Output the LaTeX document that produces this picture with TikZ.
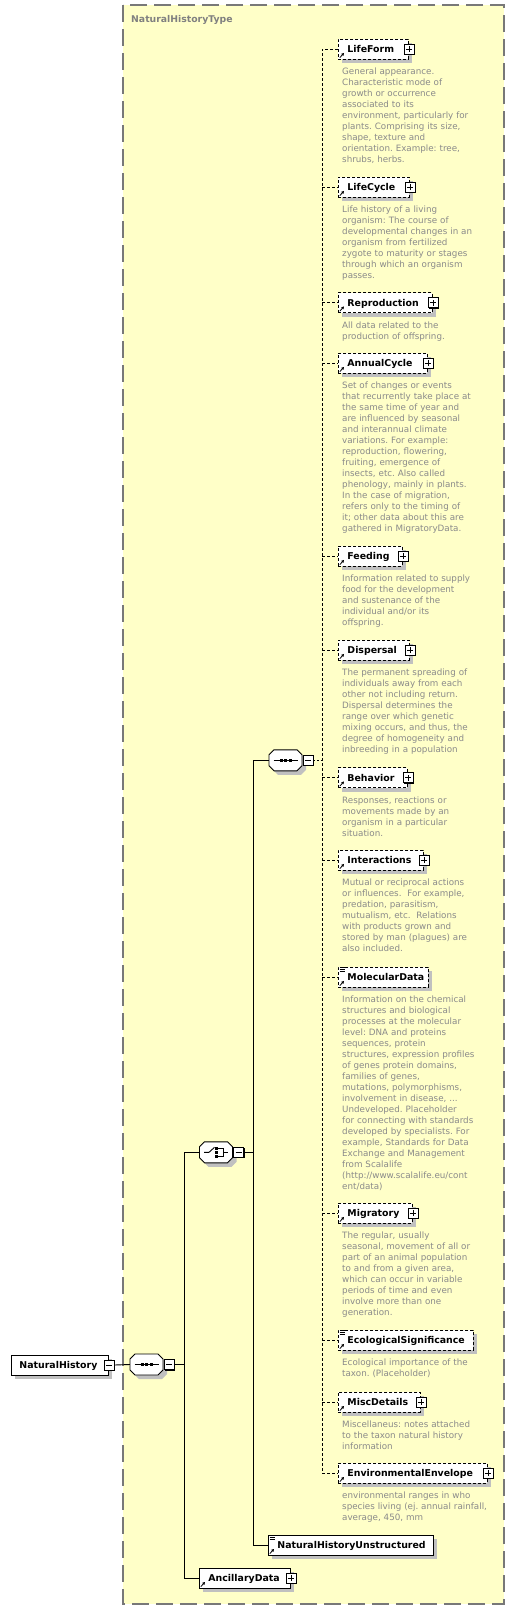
\documentclass[tikz,border=0pt]{standalone}
\usepackage{fontspec}
\setmainfont{DejaVu Sans}
\usetikzlibrary{shadows,arrows.meta}
\definecolor{bgyellow}{RGB}{255,255,200}
\definecolor{framegray}{RGB}{120,120,120}
\definecolor{shgray}{RGB}{192,192,192}
\definecolor{descgray}{RGB}{138,138,138}
\definecolor{titlegray}{RGB}{128,128,128}
\newcommand\nmfont{\fontsize{9.4}{11}\selectfont\bfseries}
\newcommand\dsfont{\fontsize{8.75}{11}\selectfont}
\newcommand\octshape[2]{%
  \path[#2] ([shift={(-11.5,-10.5)}]#1) -- ([shift={(11.5,-10.5)}]#1) -- ([shift={(16.5,-5.5)}]#1) -- ([shift={(16.5,5.5)}]#1) -- ([shift={(11.5,10.5)}]#1) -- ([shift={(-11.5,10.5)}]#1) -- ([shift={(-16.5,5.5)}]#1) -- ([shift={(-16.5,-5.5)}]#1) -- cycle;}
\newcommand\seqsym[1]{%
  \draw[line width=0.9pt] ([xshift=-12pt]#1.center) -- ([xshift=12pt]#1.center);
  \foreach \dx in {-4.5,0,4.5} {\fill ([shift={(\dx-1.5,-1.5)}]#1.center) rectangle ([shift={(\dx+1.5,1.5)}]#1.center);}}
\newcommand\refico[1]{\draw[line width=0.8pt,-{Triangle[length=2.6pt,width=2.8pt]}] ([shift={(1.8,-1.8)}]#1.south west) -- ([shift={(6,-6.5)}]#1.south west);}
\newcommand\simico[1]{\foreach \dy in {0.8,2.8,4.8} {\draw[line width=0.7pt] ([shift={(1.5,\dy)}]#1.north west) -- ([shift={(6.5,\dy)}]#1.north west);}}
\tikzset{
  elembase/.style={draw, fill=white, line width=0.9pt, inner sep=0pt, text width=#1, minimum height=20pt, text height=7pt, text depth=0pt, align=left, font=\nmfont, anchor=west, drop shadow={shadow xshift=4pt, shadow yshift=-4pt, fill=shgray, opacity=1}},
  optelem/.style={elembase=#1, dash pattern=on 3pt off 2pt},
  btn/.style={draw, fill=white, line width=0.8pt, minimum size=10pt, inner sep=0pt, drop shadow={shadow xshift=1pt, shadow yshift=-1pt, fill=black, opacity=1}},
  plusbtn/.style={btn, path picture={\draw[line width=0.8pt] ([xshift=-3pt]path picture bounding box.center) -- ([xshift=3pt]path picture bounding box.center) ([yshift=-3pt]path picture bounding box.center) -- ([yshift=3pt]path picture bounding box.center);}},
  minusbtn/.style={btn, path picture={\draw[line width=0.8pt] ([xshift=-3pt]path picture bounding box.center) -- ([xshift=3pt]path picture bounding box.center);}},
  octnode/.style={inner sep=0pt, minimum width=33pt, minimum height=21pt},
  desc/.style={anchor=base west, inner sep=0pt, text width=170pt, align=left, font=\dsfont, text=descgray},
  conn/.style={line width=0.9pt},
  dconn/.style={line width=0.9pt, dash pattern=on 3pt off 2pt},
}
\frenchspacing
\begin{document}
\frenchspacing
\begin{tikzpicture}[x=1pt,y=-1pt]
\fill[white] (0,0) rectangle (515,1610);
\useasboundingbox (0,0) rectangle (515,1610);
% frame
\draw[fill=bgyellow, draw=framegray, line width=1.3pt, dash pattern=on 17pt off 7pt] (123,5) rectangle (504,1604);
\node[anchor=base west, inner sep=0pt, font=\fontsize{9.3}{11}\selectfont\bfseries, text=titlegray] (title) at (131,22) {NaturalHistoryType};

% compositors
\node[octnode] (s1) at (146.5,1364.5) {};
\node[octnode] (ch) at (216,1152.3) {};
\node[octnode] (s2) at (285.5,760.3) {};
\coordinate (s1sh) at ([shift={(4,4)}]s1.center);
\coordinate (chsh) at ([shift={(4,4)}]ch.center);
\coordinate (s2sh) at ([shift={(4,4)}]s2.center);
\octshape{s1sh}{fill=shgray}
\octshape{chsh}{fill=shgray}
\octshape{s2sh}{fill=shgray}
\octshape{s1.center}{draw, fill=white, line width=0.9pt}
\octshape{ch.center}{draw, fill=white, line width=0.9pt}
\octshape{s2.center}{draw, fill=white, line width=0.9pt}
\seqsym{s1}
\seqsym{s2}
% choice symbol
\draw[line width=0.9pt] ([xshift=-12pt]ch.center) -- ([xshift=-7pt]ch.center) -- ([shift={(-1.5,-5)}]ch.center);
\foreach \dy in {-4,0,4} {\fill ([shift={(-1.3,\dy-1.3)}]ch.center) rectangle ([shift={(1.5,\dy+1.3)}]ch.center);}
\draw[line width=0.9pt] ([shift={(1.5,-4)}]ch.center) -- ([shift={(7,-4)}]ch.center) -- ([shift={(7,4)}]ch.center) -- ([shift={(1.5,4)}]ch.center);
\draw[line width=0.9pt] ([xshift=7pt]ch.center) -- ([xshift=12pt]ch.center);
\node[minusbtn] (s1m) at ([xshift=6pt]s1.east) {};
\node[minusbtn] (chm) at ([xshift=6pt]ch.east) {};
\node[minusbtn] (s2m) at ([xshift=6pt]s2.east) {};

% root
\node[elembase=97pt] (nh) at (11,1365) {\hspace*{8pt}NaturalHistory};
\node[minusbtn] (nhm) at (nh.east) {};

% elements
\node[optelem=70pt] (lf) at (338,49) {\hspace*{9pt}LifeForm};
\node[optelem=71pt] (lc) at (338,187) {\hspace*{9pt}LifeCycle};
\node[optelem=94pt] (rp) at (338,302.5) {\hspace*{9pt}Reproduction};
\node[optelem=89pt] (ac) at (338,363) {\hspace*{9pt}AnnualCycle};
\node[optelem=64pt] (fd) at (338,556) {\hspace*{9pt}Feeding};
\node[optelem=71pt] (dp) at (338,650) {\hspace*{9pt}Dispersal};
\node[optelem=69pt] (bh) at (338,777.5) {\hspace*{9pt}Behavior};
\node[optelem=85pt] (ia) at (338,860) {\hspace*{9pt}Interactions};
\node[optelem=90pt] (md) at (338,977) {\hspace*{9pt}MolecularData};
\node[optelem=74pt] (mg) at (338,1213) {\hspace*{9pt}Migratory};
\node[optelem=135pt] (es) at (338,1340) {\hspace*{9pt}EcologicalSignificance};
\node[optelem=82pt] (mc) at (338,1402) {\hspace*{9pt}MiscDetails};
\node[optelem=149pt] (ee) at (338,1473) {\hspace*{9pt}EnvironmentalEnvelope};
\node[elembase=165pt] (nhu) at (268,1545) {\hspace*{9pt}NaturalHistoryUnstructured};
\node[elembase=91pt] (anc) at (199,1578) {\hspace*{9pt}AncillaryData};

\foreach \n in {lf,lc,rp,ac,fd,dp,bh,ia,mg,mc,ee,anc} {\node[plusbtn] (\n p) at (\n.east) {};}
\foreach \n in {lf,lc,rp,ac,fd,dp,bh,ia,md,mg,es,mc,ee,nhu,anc} {\refico{\n}}
\foreach \n in {md,es,nhu} {\simico{\n}}

% connectors
\coordinate (b1) at (184,1152);
\coordinate (b2) at (253,760);
\coordinate (b3) at (322,49);
\draw[conn] (nhm.east) -- (s1.west);
\draw[conn] (s1m.east) -- (s1m.east -| b1);
\draw[conn] (ch.west) -- (ch.west -| b1) |- (anc.west);
\draw[conn] (chm.east) -- (chm.east -| b2);
\draw[conn] (s2.west) -- (s2.west -| b2) |- (nhu.west);
\draw[line width=0.9pt, dash pattern=on 1.5pt off 2pt] (s2m.east) -- (s2m.east -| b3);
\draw[dconn] (lf.west) -- (lf.west -| b3) |- (ee.west);
\foreach \n in {lc,rp,ac,fd,dp,bh,ia,md,mg,es,mc} {\draw[dconn] (\n.west -| b3) -- (\n.west);}

% descriptions
\node[desc] (lfd) at ([shift={(4,25.8)}]lf.west) {General appearance.\\Characteristic mode of\\growth or occurrence\\associated to its\\environment, particularly for\\plants. Comprising its size,\\shape, texture and\\orientation. Example: tree,\\shrubs, herbs.};
\node[desc] (lcd) at ([shift={(4,25.8)}]lc.west) {Life history of a living\\organism: The course of\\developmental changes in an\\organism from fertilized\\zygote to maturity or stages\\through which an organism\\passes.};
\node[desc] (rpd) at ([shift={(4,25.8)}]rp.west) {All data related to the\\production of offspring.};
\node[desc] (acd) at ([shift={(4,25.8)}]ac.west) {Set of changes or events\\that recurrently take place at\\the same time of year and\\are influenced by seasonal\\and interannual climate\\variations. For example:\\reproduction, flowering,\\fruiting, emergence of\\insects, etc. Also called\\phenology, mainly in plants.\\In the case of migration,\\refers only to the timing of\\it; other data about this are\\gathered in MigratoryData.};
\node[desc] (fdd) at ([shift={(4,25.8)}]fd.west) {Information related to supply\\food for the development\\and sustenance of the\\individual and/or its\\offspring.};
\node[desc] (dpd) at ([shift={(4,25.8)}]dp.west) {The permanent spreading of\\individuals away from each\\other not including return.\\Dispersal determines the\\range over which genetic\\mixing occurs, and thus, the\\degree of homogeneity and\\inbreeding in a population};
\node[desc] (bhd) at ([shift={(4,25.8)}]bh.west) {Responses, reactions or\\movements made by an\\organism in a particular\\situation.};
\node[desc] (iad) at ([shift={(4,25.8)}]ia.west) {Mutual or reciprocal actions\\or influences.~ For example,\\predation, parasitism,\\mutualism, etc.~ Relations\\with products grown and\\stored by man (plagues) are\\also included.};
\node[desc] (mdd) at ([shift={(4,25.8)}]md.west) {Information on the chemical\\structures and biological\\processes at the molecular\\level: DNA and proteins\\sequences, protein\\structures, expression profiles\\of genes protein domains,\\families of genes,\\mutations, polymorphisms,\\involvement in disease, ...\\Undeveloped. Placeholder\\for connecting with standards\\developed by specialists. For\\example, Standards for Data\\Exchange and Management\\from Scalalife\\(http://www.scalalife.eu/cont\\ent/data)};
\node[desc] (mgd) at ([shift={(4,25.8)}]mg.west) {The regular, usually\\seasonal, movement of all or\\part of an animal population\\to and from a given area,\\which can occur in variable\\periods of time and even\\involve more than one\\generation.};
\node[desc] (esd) at ([shift={(4,25.8)}]es.west) {Ecological importance of the\\taxon. (Placeholder)};
\node[desc] (mcd) at ([shift={(4,25.8)}]mc.west) {Miscellaneus: notes attached\\to the taxon natural history\\information};
\node[desc] (eed) at ([shift={(4,25.8)}]ee.west) {environmental ranges in who\\species living (ej. annual rainfall,\\average, 450, mm};
\end{tikzpicture}
\end{document}
